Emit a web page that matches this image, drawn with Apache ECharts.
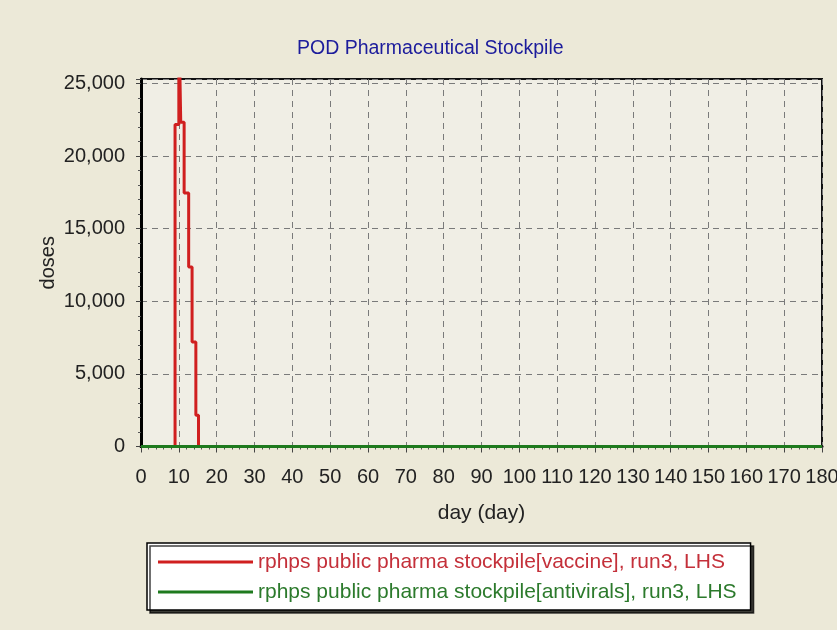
<!DOCTYPE html>
<html>
<head>
<meta charset="utf-8">
<script src="https://cdn.jsdelivr.net/npm/echarts@6/dist/echarts.min.js"></script>
<style>
html,body{margin:0;padding:0;background:#ECE9D8;}
#c{width:837px;height:630px;}
</style>
</head>
<body>
<div id="c"></div>
<script>
var titleText = 'POD Pharmaceutical Stockpile';
var xName = 'day (day)';
var yName = 'doses';
var seriesNames = [
  'rphps public pharma stockpile[vaccine], run3, LHS',
  'rphps public pharma stockpile[antivirals], run3, LHS'
];
// vaccine stockpile (step trace)
var vaccineDays   = [0, 9.0, 9.0, 10.0, 10.0, 10.5, 10.5, 11.4, 11.4, 12.6, 12.6, 13.5, 13.5, 14.5, 14.5, 15.2, 15.2, 180];
var vaccineValues = [0, 0, 22170, 22170, 30000, 30000, 22330, 22330, 17450, 17450, 12350, 12350, 7200, 7200, 2150, 2150, 0, 0];
// antivirals stockpile
var antiviralDays   = [0, 180];
var antiviralValues = [0, 0];

function pairs(xs, ys){ return xs.map(function(x,i){ return [x, ys[i]]; }); }

var FONT = '"Liberation Sans", Arial, sans-serif';
var chart = echarts.init(document.getElementById('c'));
chart.setOption({
  backgroundColor: '#ECE9D8',
  animation: false,
  title: {
    text: titleText, left: 292, top: 34,
    textStyle: {fontFamily: FONT, fontSize: 19.5, fontWeight: 'normal', color: '#1C1C9C'}
  },
  grid: {
    left: 141, right: 15, top: 79, bottom: 183.5,
    outerBoundsMode: 'none', containLabel: false,
    show: true, backgroundColor: '#F0EEE5', borderColor: '#111', borderWidth: 2
  },
  xAxis: {
    type: 'value', min: 0, max: 180, interval: 10,
    name: xName, nameLocation: 'middle', nameGap: 56, nameMoveOverlap: false,
    nameTextStyle: {fontFamily: FONT, fontSize: 21, color: '#222'},
    axisLine: {show: true, onZero: false, lineStyle: {color: '#000', width: 3}},
    axisTick: {show: true, inside: false, length: 6, lineStyle: {color: '#444'}},
    minorTick: {show: true, splitNumber: 5, length: 3, lineStyle: {color: '#555'}},
    axisLabel: {interval: 0, margin: 21, fontFamily: FONT, fontSize: 20, color: '#222', hideOverlap: false},
    splitLine: {show: true, lineStyle: {color: '#7a7a7a', type: [6, 5], width: 1}}
  },
  yAxis: {
    type: 'value', min: 0, max: 25300, interval: 5000,
    name: yName, nameLocation: 'middle', nameGap: 83, nameRotate: 90, nameMoveOverlap: false,
    nameTextStyle: {fontFamily: FONT, fontSize: 20, color: '#222'},
    axisLine: {show: true, onZero: false, lineStyle: {color: '#000', width: 3}},
    axisTick: {show: true, inside: false, length: 5, lineStyle: {color: '#444'}},
    minorTick: {show: true, splitNumber: 5, length: 3, lineStyle: {color: '#555'}},
    axisLabel: {
      margin: 16, fontFamily: FONT, fontSize: 20, color: '#222', showMaxLabel: false,
      formatter: function(v){ return v.toLocaleString('en-US'); }
    },
    splitLine: {show: true, lineStyle: {color: '#7a7a7a', type: [6, 5], width: 1}}
  },
  legend: {
    orient: 'vertical', left: 147, top: 543,
    backgroundColor: '#FFFFFF', borderColor: '#000', borderWidth: 1.5,
    shadowColor: 'rgba(0,0,0,0.75)', shadowBlur: 0, shadowOffsetX: 3, shadowOffsetY: 3,
    padding: [8, 14, 7, 11],
    itemWidth: 95, itemHeight: 3, itemGap: 8,
    selectedMode: false,
    icon: 'rect',
    textStyle: {fontFamily: FONT, fontSize: 21, lineHeight: 22},
    data: [
      {name: seriesNames[0], icon: 'rect', textStyle: {color: '#C4303A'}},
      {name: seriesNames[1], icon: 'rect', textStyle: {color: '#2C7A2C'}}
    ]
  },
  series: [
    {
      name: seriesNames[0], type: 'line', showSymbol: false, clip: true,
      data: pairs(vaccineDays, vaccineValues),
      itemStyle: {color: '#D01F1F'},
      lineStyle: {color: '#D01F1F', width: 3}
    },
    {
      name: seriesNames[1], type: 'line', showSymbol: false, clip: true,
      data: pairs(antiviralDays, antiviralValues),
      itemStyle: {color: '#1E7A1E'},
      lineStyle: {color: '#1E7A1E', width: 3}
    }
  ]
});
</script>
</body>
</html>
